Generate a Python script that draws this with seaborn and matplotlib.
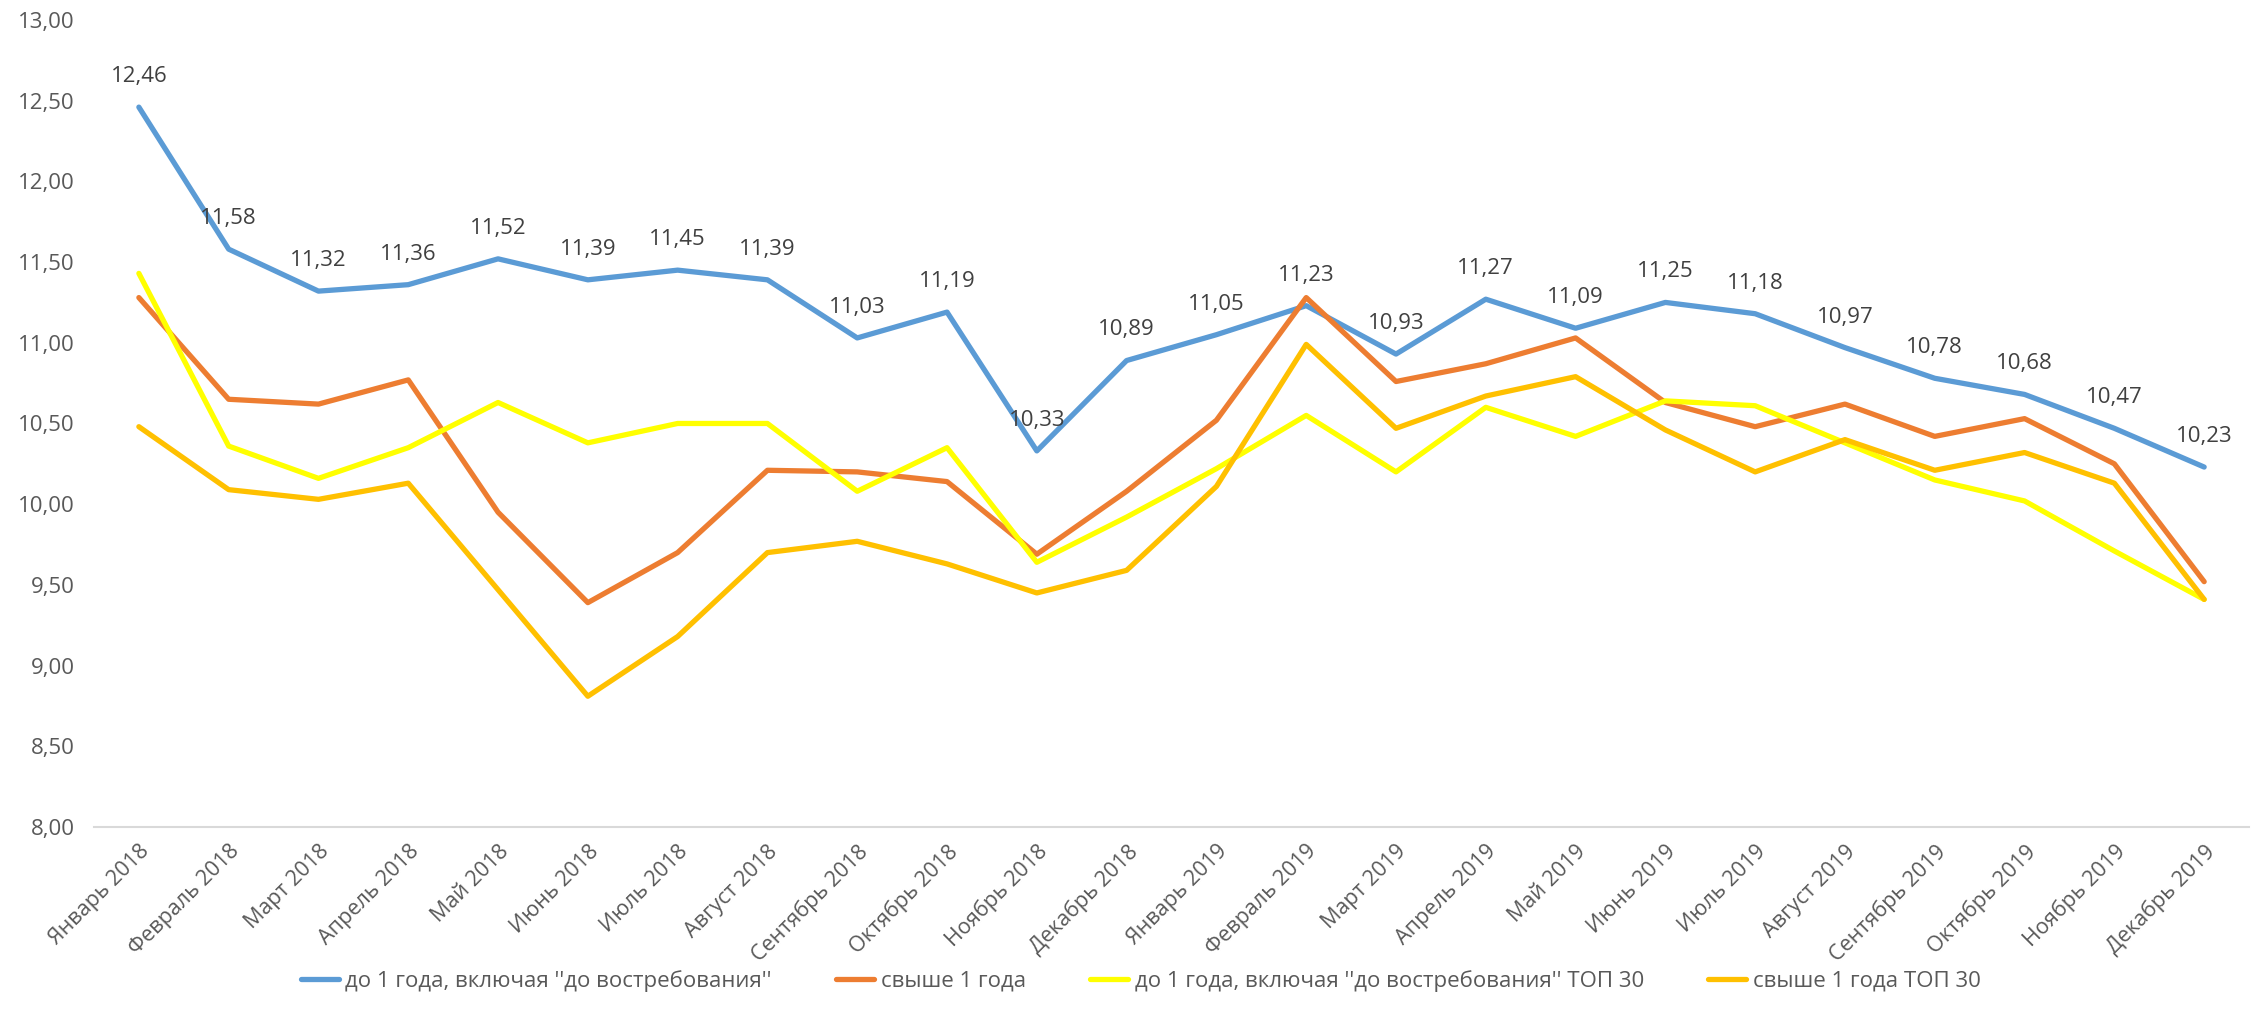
import numpy as np
import pandas as pd
import seaborn as sns
from matplotlib import pyplot as plt
from matplotlib.ticker import FuncFormatter, MultipleLocator

# Data
months = ['Январь', 'Февраль', 'Март', 'Апрель', 'Май', 'Июнь', 'Июль', 'Август',
          'Сентябрь', 'Октябрь', 'Ноябрь', 'Декабрь']
periods = [f'{m} {y}' for y in (2018, 2019) for m in months]

series_names = ["до 1 года, включая ''до востребования''",
                'свыше 1 года',
                "до 1 года, включая ''до востребования'' ТОП 30",
                'свыше 1 года ТОП 30']

short_all = [12.46, 11.58, 11.32, 11.36, 11.52, 11.39, 11.45, 11.39, 11.03, 11.19, 10.33, 10.89,
             11.05, 11.23, 10.93, 11.27, 11.09, 11.25, 11.18, 10.97, 10.78, 10.68, 10.47, 10.23]
long_all = [11.28, 10.65, 10.62, 10.77, 9.95, 9.39, 9.70, 10.21, 10.20, 10.14, 9.69, 10.08,
            10.52, 11.28, 10.76, 10.87, 11.03, 10.63, 10.48, 10.62, 10.42, 10.53, 10.25, 9.52]
short_top30 = [11.43, 10.36, 10.16, 10.35, 10.63, 10.38, 10.50, 10.50, 10.08, 10.35, 9.64, 9.92,
               10.22, 10.55, 10.20, 10.60, 10.42, 10.64, 10.61, 10.38, 10.15, 10.02, 9.71, 9.41]
long_top30 = [10.48, 10.09, 10.03, 10.13, 9.47, 8.81, 9.18, 9.70, 9.77, 9.63, 9.45, 9.59,
              10.11, 10.99, 10.47, 10.67, 10.79, 10.46, 10.20, 10.40, 10.21, 10.32, 10.13, 9.41]

colors = ['#5B9BD5', '#ED7D31', '#FFFF00', '#FFC000']

# Long-form table
df = pd.DataFrame({
    'idx': list(range(len(periods))) * 4,
    'value': short_all + long_all + short_top30 + long_top30,
    'series': [name for name in series_names for _ in periods],
})

sns.set_style('white')
plt.rcParams['font.family'] = ['Open Sans', 'DejaVu Sans']
text_color = '#595959'

fig = plt.figure(figsize=(22.59, 10.24), dpi=100)
ax = fig.add_axes([0.0416, 0.1924, 0.954, 0.7881])

sns.lineplot(data=df, x='idx', y='value', hue='series', hue_order=series_names,
             palette=colors, linewidth=3.8, ax=ax, legend=True)

# Data labels for the first series
for i, v in enumerate(short_all):
    ax.annotate(f'{v:.2f}'.replace('.', ','), (i, v), xytext=(0, 22), textcoords='offset points',
                ha='center', va='center', fontsize=16, color='#404040')

ax.set_xlim(-0.5, len(periods) - 0.5)
ax.set_ylim(8, 13)
ax.yaxis.set_major_locator(MultipleLocator(0.5))
ax.yaxis.set_major_formatter(FuncFormatter(lambda y, _: f'{y:.2f}'.replace('.', ',')))
ax.set_xticks(range(len(periods)))
ax.set_xticklabels(periods, rotation=45, ha='right', rotation_mode='anchor')
ax.tick_params(axis='both', labelsize=16, colors=text_color, length=0)
ax.tick_params(axis='x', labelsize=15.5, pad=10)
ax.tick_params(axis='y', pad=14)
ax.set_xlabel('')
ax.set_ylabel('')

for side in ['top', 'right', 'left']:
    ax.spines[side].set_visible(False)
ax.spines['bottom'].set_color('#D9D9D9')
ax.spines['bottom'].set_linewidth(1.5)

# Legend
handles, labels = ax.get_legend_handles_labels()
ax.legend_.remove()
leg = fig.legend(handles, labels, loc='center', bbox_to_anchor=(0.505, 0.042), ncol=4,
                 frameon=False, fontsize=16, handlelength=1.7, columnspacing=2.9, handletextpad=0.3)
for t in leg.get_texts():
    t.set_color(text_color)

fig.savefig('out.png', dpi=100)
plt.close()
